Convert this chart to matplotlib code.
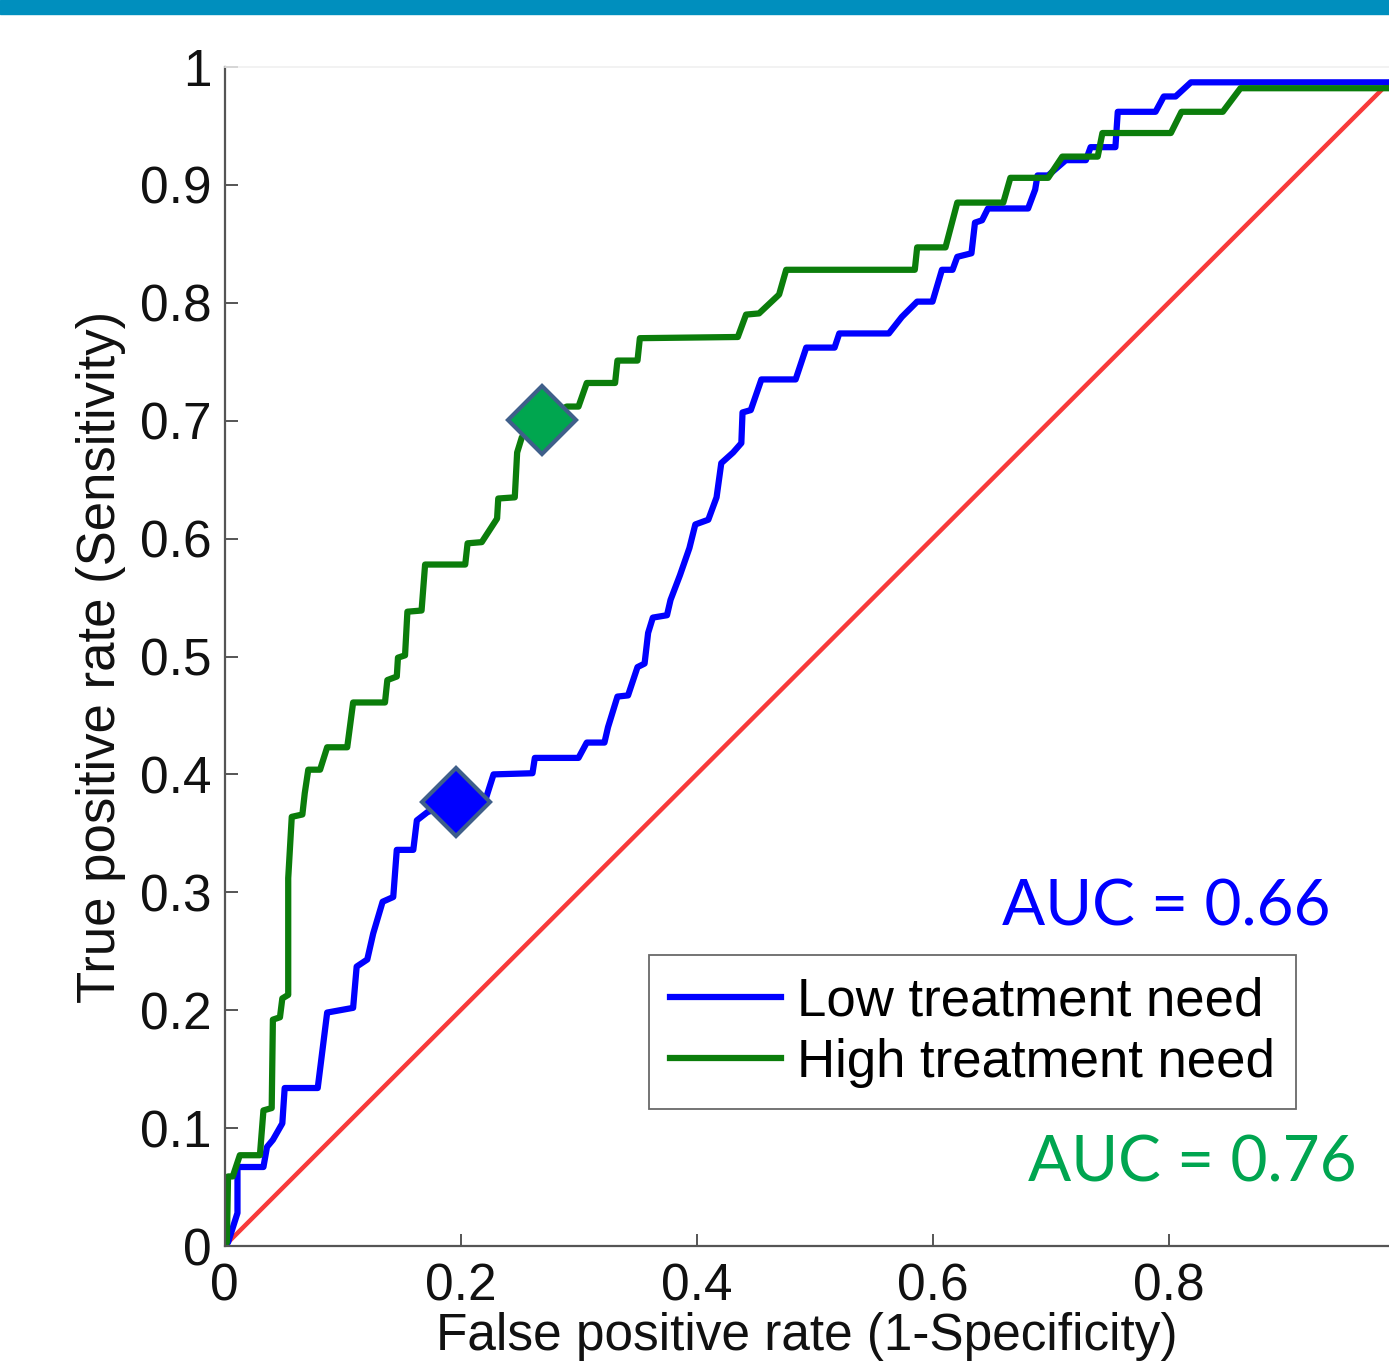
import matplotlib
matplotlib.use("Agg")
import matplotlib.pyplot as plt
from matplotlib.patches import Rectangle

# ROC vertices (false positive rate, true positive rate)
low_fpr = [0, 0.003, 0.011, 0.011, 0.033, 0.036, 0.041, 0.049, 0.051, 0.079, 0.087, 0.109,
           0.112, 0.121, 0.126, 0.134, 0.143, 0.146, 0.160, 0.163, 0.172, 0.197, 0.221, 0.228,
           0.261, 0.263, 0.300, 0.307, 0.322, 0.325, 0.333, 0.342, 0.350, 0.356, 0.359, 0.363,
           0.375, 0.378, 0.386, 0.394, 0.399, 0.410, 0.417, 0.421, 0.431, 0.438, 0.439, 0.446,
           0.455, 0.484, 0.493, 0.517, 0.521, 0.563, 0.574, 0.587, 0.600, 0.608, 0.617, 0.621,
           0.633, 0.636, 0.642, 0.647, 0.681, 0.687, 0.689, 0.698, 0.713, 0.730, 0.734, 0.755,
           0.757, 0.789, 0.796, 0.806, 0.819, 1.0, 1.0]
low_tpr = [0, 0.003, 0.028, 0.067, 0.067, 0.084, 0.090, 0.104, 0.134, 0.134, 0.198, 0.202,
           0.237, 0.243, 0.265, 0.292, 0.296, 0.336, 0.336, 0.361, 0.368, 0.377, 0.378, 0.400,
           0.401, 0.414, 0.414, 0.427, 0.427, 0.440, 0.466, 0.467, 0.491, 0.494, 0.520, 0.533,
           0.535, 0.548, 0.569, 0.592, 0.612, 0.616, 0.635, 0.664, 0.673, 0.681, 0.707, 0.709,
           0.735, 0.735, 0.762, 0.762, 0.774, 0.774, 0.788, 0.801, 0.801, 0.828, 0.828, 0.839,
           0.842, 0.868, 0.870, 0.880, 0.880, 0.896, 0.908, 0.908, 0.921, 0.921, 0.932, 0.932,
           0.962, 0.962, 0.975, 0.975, 0.987, 0.987, 1.0]

high_fpr = [0, 0.002, 0.003, 0.007, 0.013, 0.030, 0.033, 0.040, 0.041, 0.047, 0.049, 0.054,
            0.054, 0.057, 0.066, 0.068, 0.071, 0.081, 0.087, 0.104, 0.109, 0.136, 0.138, 0.146,
            0.147, 0.153, 0.155, 0.167, 0.170, 0.204, 0.206, 0.218, 0.231, 0.232, 0.246, 0.248,
            0.252, 0.269, 0.290, 0.300, 0.307, 0.331, 0.333, 0.350, 0.352, 0.435, 0.442, 0.453,
            0.470, 0.476, 0.585, 0.587, 0.611, 0.621, 0.660, 0.666, 0.698, 0.710, 0.740, 0.744,
            0.802, 0.811, 0.846, 0.861, 1.0, 1.0]
high_tpr = [0, 0.003, 0.059, 0.059, 0.077, 0.077, 0.115, 0.117, 0.192, 0.194, 0.210, 0.213,
            0.312, 0.364, 0.366, 0.384, 0.404, 0.404, 0.423, 0.423, 0.461, 0.461, 0.480, 0.483,
            0.499, 0.501, 0.538, 0.539, 0.578, 0.578, 0.596, 0.597, 0.617, 0.634, 0.635, 0.673,
            0.686, 0.701, 0.712, 0.712, 0.732, 0.732, 0.751, 0.751, 0.770, 0.771, 0.790, 0.791,
            0.807, 0.828, 0.828, 0.847, 0.847, 0.885, 0.885, 0.906, 0.906, 0.924, 0.924, 0.944,
            0.944, 0.962, 0.962, 0.982, 0.982, 1.0]

# operating points (diamonds)
low_point = (0.196, 0.377)
high_point = (0.269, 0.701)

labels = ["Low treatment need", "High treatment need"]
auc_low = "AUC = 0.66"
auc_high = "AUC = 0.76"
xticks = [0, 0.2, 0.4, 0.6, 0.8]
yticks = [0, 0.1, 0.2, 0.3, 0.4, 0.5, 0.6, 0.7, 0.8, 0.9, 1]

plt.rcParams['font.family'] = ['Liberation Sans', 'DejaVu Sans']

W, H = 1389, 1367
fig = plt.figure(figsize=(W / 100, H / 100), dpi=100)
fig.patch.set_facecolor('white')

# blue band at the top of the slide
fig.patches.append(Rectangle((0, 1 - 14 / H), 1, 14 / H, transform=fig.transFigure,
                             color='#008fbe', zorder=0))

ax = fig.add_axes([224.5 / W, 1 - 1246 / H, 1 - 224.5 / W, 1179 / H])

ax.plot([0, 1], [0, 1], color='#f83a3a', lw=3.2, zorder=1)
ax.plot(low_fpr, low_tpr, color='#0000ff', lw=4.5, label=labels[0], zorder=2)
ax.plot(high_fpr, high_tpr, color='#0b7d0b', lw=4.5, label=labels[1], zorder=2)

ax.plot(*low_point, marker='D', ms=35, mfc='#0000ff', mec='#3f5f8a', mew=3, zorder=3)
ax.plot(*high_point, marker='D', ms=35, mfc='#00a64f', mec='#3f5f8a', mew=3, zorder=3)

ax.set_xlim(0, (W - 224.5) / 1180)
ax.set_ylim(0, 1)
ax.set_xticks(xticks)
ax.set_xticklabels(['0', '0.2', '0.4', '0.6', '0.8'])
ax.set_yticks(yticks)
ax.set_yticklabels(['0', '0.1', '0.2', '0.3', '0.4', '0.5', '0.6', '0.7', '0.8', '0.9', '1'])
ax.tick_params(direction='in', length=9, width=1.4, colors='#555555', labelcolor='#111111',
               labelsize=37, pad=9)
ax.tick_params(axis='x', pad=12)

for s in ['left', 'bottom']:
    ax.spines[s].set_color('#555555')
    ax.spines[s].set_linewidth(1.6)
ax.spines['top'].set_color('#f0f0f0')
ax.spines['top'].set_linewidth(1.2)
ax.spines['right'].set_visible(False)

ax.set_xlabel('False positive rate (1-Specificity)', fontsize=37, color='#111111', labelpad=0)
ax.set_ylabel('True positive rate (Sensitivity)', fontsize=38, color='#111111', labelpad=10)

leg = ax.legend(loc='upper left', bbox_to_anchor=((655 - 224.5) / 1180, (1246 - 955) / 1179),
                fontsize=38, frameon=True, fancybox=False, handlelength=2.1,
                handletextpad=0.3, borderpad=0.4, labelspacing=0.22, borderaxespad=0)
leg.get_frame().set_edgecolor('#444444')
leg.get_frame().set_linewidth(1.3)

fig.text(1330 / W, 1 - 925 / H, auc_low, color='#0000ff', fontsize=46,
         family=['Lato', 'DejaVu Sans'], ha='right', va='baseline')
fig.text(1357 / W, 1 - 1181 / H, auc_high, color='#00a550', fontsize=46,
         family=['Lato', 'DejaVu Sans'], ha='right', va='baseline')

fig.savefig('out.png', dpi=100, facecolor='white')
